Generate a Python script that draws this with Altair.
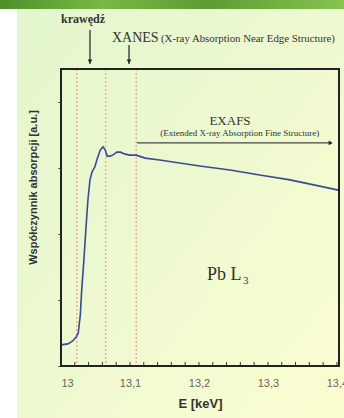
import altair as alt
import pandas as pd

# ---- data ----
energy = [13.000, 13.010, 13.017, 13.022, 13.025, 13.028, 13.030, 13.033, 13.036, 13.039,
          13.042, 13.045, 13.049, 13.052, 13.057, 13.061, 13.064, 13.067, 13.071, 13.075,
          13.081, 13.086, 13.093, 13.100, 13.109, 13.122, 13.143, 13.201, 13.245, 13.288,
          13.332, 13.375, 13.402]
absorb = [0.64, 0.67, 0.76, 0.88, 1.00, 1.55, 2.30, 3.15, 4.12, 5.03,
          5.64, 5.88, 6.03, 6.24, 6.55, 6.64, 6.55, 6.36, 6.36, 6.39,
          6.48, 6.48, 6.42, 6.39, 6.39, 6.30, 6.24, 6.06, 5.94, 5.79,
          5.64, 5.45, 5.33]
edges = [13.023, 13.065, 13.109]
x_ticks = [round(13.0 + 0.02 * i, 2) for i in range(21)]
x_labels = [13.0, 13.1, 13.2, 13.3, 13.4]
y_ticks = list(range(10))

W, H = 278, 297
XDOM = [13.0, 13.403]
YDOM = [0, 9]

curve = pd.DataFrame({"E": energy, "A": absorb})
xs = alt.Scale(domain=XDOM, nice=False, zero=False)
ys = alt.Scale(domain=YDOM, nice=False, zero=False)
one = alt.Data(values=[{"a": 1}])

# background panel and top band
panel = alt.Chart(one).mark_rect(
    fill=alt.LinearGradient(gradient="linear", x1=0, y1=0, x2=1, y2=1,
        stops=[alt.GradientStop(color="#e3f6cd", offset=0),
               alt.GradientStop(color="#eef9d0", offset=0.5),
               alt.GradientStop(color="#fcfdd0", offset=1)])
).encode(x=alt.value(-44), x2=alt.value(283), y=alt.value(-60), y2=alt.value(349))

band = alt.Chart(one).mark_rect(
    fill=alt.LinearGradient(gradient="linear", x1=0, y1=0, x2=1, y2=0,
        stops=[alt.GradientStop(color="#4f8f2c", offset=0),
               alt.GradientStop(color="#79b845", offset=0.3),
               alt.GradientStop(color="#5c9c33", offset=0.6),
               alt.GradientStop(color="#86c450", offset=1)])
).encode(x=alt.value(-61), x2=alt.value(283), y=alt.value(-69), y2=alt.value(-60))

rules = alt.Chart(pd.DataFrame({"e": edges})).mark_rule(
    color="#ef8f72", strokeDash=[2, 2], strokeWidth=1
).encode(x=alt.X("e:Q", scale=xs))

line = alt.Chart(curve).mark_line(color="#3a4a96", strokeWidth=1.6).encode(
    x=alt.X("E:Q", scale=xs,
            axis=alt.Axis(values=x_labels, ticks=False, domain=False, grid=False, zindex=1,
                          labelExpr="replace(format(datum.value, '.1~f'), '.', ',')",
                          labelFont="Liberation Sans", labelFontSize=11, labelColor="#666",
                          labelPadding=11, title="E [keV]", titleFont="Liberation Sans",
                          titleFontSize=13, titleFontWeight="bold", titleColor="#333",
                          titlePadding=9)),
    y=alt.Y("A:Q", scale=ys,
            axis=alt.Axis(values=y_ticks, labels=False, domain=False, grid=False, zindex=1,
                          tickSize=3, tickColor="#333", tickWidth=1,
                          title="Współczynnik absorpcji [a.u.]", titleFont="Liberation Sans",
                          titleFontSize=11, titleFontWeight="bold", titleColor="#333",
                          titleAngle=270, titleX=-28, titleY=118, titleAlign="center",
                          titleBaseline="middle")),
)

frame = alt.Chart(one).mark_rect(fill=None, stroke="#222", strokeWidth=2).encode(
    x=alt.datum(XDOM[0], scale=xs), x2=alt.datum(XDOM[1]),
    y=alt.datum(YDOM[0], scale=ys), y2=alt.datum(YDOM[1]))

xt = alt.Chart(pd.DataFrame({"t": x_ticks})).mark_rule(color="#333", strokeWidth=1).encode(
    x=alt.X("t:Q", scale=xs), y=alt.datum(0, scale=ys), y2=alt.datum(0.12))

# annotations (positions in data units)
def txt(s, x, y, size, font="Liberation Serif", weight="normal", align="left", color="#333"):
    return alt.Chart(one).mark_text(text=s, font=font, fontSize=size, fontWeight=weight,
                                    align=align, baseline="alphabetic", color=color).encode(
        x=alt.datum(x, scale=xs), y=alt.datum(y, scale=ys))

def arrow_v(x, y1, y2, color="#222"):
    r = alt.Chart(one).mark_rule(color=color, strokeWidth=1.2).encode(
        x=alt.datum(x, scale=xs), y=alt.datum(y1, scale=ys), y2=alt.datum(y2))
    h = alt.Chart(one).mark_point(shape="triangle-down", filled=True, color=color,
                                  size=22, opacity=1).encode(
        x=alt.datum(x, scale=xs), y=alt.datum(y2 + 0.08, scale=ys))
    return r + h

k = txt("krawędź", 13.032, 10.39, 12, weight="bold", align="center")
a1 = arrow_v(13.042, 10.18, 9.15)
xan = txt("XANES", 13.0739, 9.82, 14)
xan2 = txt("(X-ray Absorption Near Edge Structure)", 13.145, 9.82, 10.8)
a2 = arrow_v(13.0986, 9.73, 9.15)
ex = txt("EXAFS", 13.245, 7.30, 13, align="center")
ex2 = txt("(Extended X-ray Absorption Fine Structure)", 13.259, 6.97, 9, align="center")
ear = alt.Chart(one).mark_rule(color="#444", strokeWidth=1.2).encode(
    x=alt.datum(13.110, scale=xs), x2=alt.datum(13.390), y=alt.datum(6.76, scale=ys))
eah = alt.Chart(one).mark_point(shape="triangle-right", filled=True, color="#222",
                                size=22, opacity=1).encode(
    x=alt.datum(13.391, scale=xs), y=alt.datum(6.76, scale=ys))
pb = txt("Pb L", 13.2116, 2.61, 18)
pb3 = alt.Chart(one).mark_text(text="3", font="Liberation Serif", fontSize=11, align="left",
                               baseline="alphabetic", color="#333", dx=36, dy=4).encode(
    x=alt.datum(13.2116, scale=xs), y=alt.datum(2.61, scale=ys))

chart = alt.layer(panel, band, rules, xt, line, frame, k, a1, xan, xan2, a2, ex, ex2, ear, eah,
                  pb, pb3).properties(
    width=W, height=H, background="white", autosize="none",
    padding={"left": 61, "top": 69, "right": 5, "bottom": 52},
).configure_view(stroke=None)

chart.save("out.html", embed_options={"renderer": "svg", "actions": False})
